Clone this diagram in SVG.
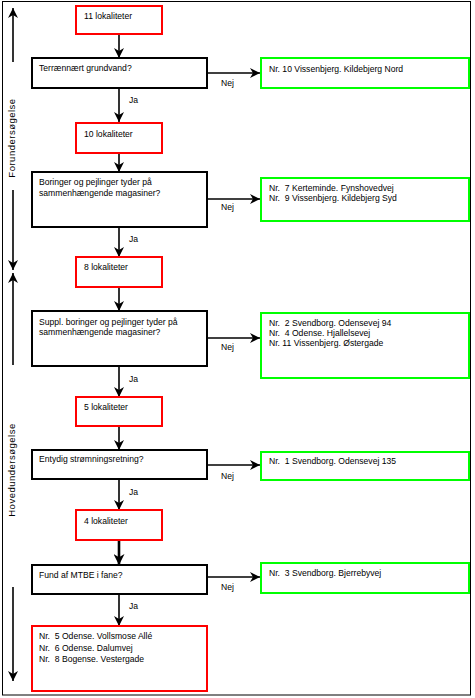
<svg xmlns="http://www.w3.org/2000/svg" width="475" height="698" viewBox="0 0 475 698">
<style>
text{font-family:"Liberation Sans",Arial,sans-serif;font-size:8.6px;fill:#000;white-space:pre}
.red{fill:#fff;stroke:#ff0000;stroke-width:2}
.grn{fill:#fff;stroke:#00ff00;stroke-width:2}
.dec{fill:#fff;stroke:#000;stroke-width:2}
.c{fill:none;stroke:#000;stroke-width:1.6}
.ck{fill:none;stroke:#000;stroke-width:2.6}
.side{font-size:9.5px;letter-spacing:0.5px}
</style>
<defs>
<marker id="ah" viewBox="0 0 10 10" refX="10" refY="5" markerWidth="10" markerHeight="10" markerUnits="userSpaceOnUse" orient="auto">
<path d="M0,0 L10,5 L0,10 L3,5 z" fill="#000"/>
</marker>
<marker id="ah2" viewBox="0 0 10 10" refX="10" refY="5" markerWidth="11" markerHeight="11" markerUnits="userSpaceOnUse" orient="auto">
<path d="M0,0 L10,5 L0,10 L3,5 z" fill="#000"/>
</marker>
</defs>
<rect x="2.5" y="1.5" width="468" height="693.5" fill="#fff" stroke="#000" stroke-width="1"/>

<g id="connectors">
<path class="c" d="M119,34 V58" marker-end="url(#ah)"/>
<path class="c" d="M119,88 V122" marker-end="url(#ah)"/>
<path class="c" d="M207,73 H260" marker-end="url(#ah)"/>
<path class="c" d="M119,153 V172" marker-end="url(#ah)"/>
<path class="c" d="M119,227 V257" marker-end="url(#ah)"/>
<path class="c" d="M207,199 H260" marker-end="url(#ah)"/>
<path class="c" d="M119,287 V311" marker-end="url(#ah)"/>
<path class="c" d="M119,366 V397" marker-end="url(#ah)"/>
<path class="c" d="M207,338 H260" marker-end="url(#ah)"/>
<path class="c" d="M119,426 V450" marker-end="url(#ah)"/>
<path class="c" d="M119,479 V510" marker-end="url(#ah)"/>
<path class="c" d="M207,465 H260" marker-end="url(#ah)"/>
<path class="ck" d="M119,540 V565" marker-end="url(#ah2)"/>
<path class="c" d="M119,594 V626" marker-end="url(#ah)"/>
<path class="c" d="M207,577 H260" marker-end="url(#ah)"/>
<text x="129" y="103">Ja</text>
<text x="221" y="86">Nej</text>
<text x="129" y="242">Ja</text>
<text x="221" y="210">Nej</text>
<text x="129" y="382">Ja</text>
<text x="221" y="350">Nej</text>
<text x="129" y="495">Ja</text>
<text x="221" y="479">Nej</text>
<text x="129" y="609">Ja</text>
<text x="221" y="590">Nej</text>
</g>

<g id="phases">
<path class="c" stroke-width="2" d="M13,62 V8" marker-end="url(#ah)"/>
<path class="c" stroke-width="2" d="M13,190 V270" marker-end="url(#ah)"/>
<path class="c" stroke-width="2" d="M13,365 V273" marker-end="url(#ah)"/>
<path class="c" stroke-width="2" d="M13,587 V681" marker-end="url(#ah)"/>
<text class="side" transform="translate(15,138) rotate(-90)" text-anchor="middle">Forundersøgelse</text>
<text class="side" transform="translate(15,470) rotate(-90)" text-anchor="middle">Hovedundersøgelse</text>
</g>

<g id="n11"><rect class="red" x="76" y="6" width="86" height="28"/><text x="84" y="19">11 lokaliteter</text></g>
<g id="q1"><rect class="dec" x="32" y="58" width="175" height="30"/><text x="39" y="71">Terrænnært grundvand?</text></g>
<g id="r1"><rect class="grn" x="261" y="58" width="208" height="30"/><text x="269" y="72">Nr. 10 Vissenbjerg. Kildebjerg Nord</text></g>

<g id="n10"><rect class="red" x="76" y="123" width="86" height="30"/><text x="84" y="137">10 lokaliteter</text></g>
<g id="q2"><rect class="dec" x="32" y="172" width="175" height="55"/><text x="39" y="185">Boringer og pejlinger tyder på</text><text x="39" y="196">sammenhængende magasiner?</text></g>
<g id="r2"><rect class="grn" x="261" y="178" width="208" height="43"/><text x="269" y="191">Nr.  7 Kerteminde. Fynshovedvej</text><text x="269" y="201">Nr.  9 Vissenbjerg. Kildebjerg Syd</text></g>

<g id="n8"><rect class="red" x="76" y="257" width="86" height="30"/><text x="84" y="270">8 lokaliteter</text></g>
<g id="q3"><rect class="dec" x="32" y="311" width="175" height="55"/><text x="39" y="325">Suppl. boringer og pejlinger tyder på</text><text x="39" y="335">sammenhængende magasiner?</text></g>
<g id="r3"><rect class="grn" x="261" y="313" width="208" height="65"/><text x="269" y="326">Nr.  2 Svendborg. Odensevej 94</text><text x="269" y="336">Nr.  4 Odense. Hjallelsevej</text><text x="269" y="346">Nr. 11 Vissenbjerg. Østergade</text></g>

<g id="n5"><rect class="red" x="76" y="397" width="86" height="29"/><text x="84" y="410">5 lokaliteter</text></g>
<g id="q4"><rect class="dec" x="32" y="450" width="175" height="29"/><text x="39" y="462">Entydig strømningsretning?</text></g>
<g id="r4"><rect class="grn" x="261" y="452" width="208" height="28"/><text x="269" y="464">Nr.  1 Svendborg. Odensevej 135</text></g>

<g id="n4"><rect class="red" x="76" y="510" width="86" height="30"/><text x="84" y="524">4 lokaliteter</text></g>
<g id="q5"><rect class="dec" x="32" y="565" width="175" height="29"/><text x="39" y="578">Fund af MTBE i fane?</text></g>
<g id="r5"><rect class="grn" x="261" y="563" width="208" height="30"/><text x="269" y="576">Nr.  3 Svendborg. Bjerrebyvej</text></g>

<g id="final"><rect class="red" x="32" y="626" width="175" height="65"/><text x="39" y="639">Nr.  5 Odense. Vollsmose Allé</text><text x="39" y="651">Nr.  6 Odense. Dalumvej</text><text x="39" y="662">Nr.  8 Bogense. Vestergade</text></g>
</svg>
